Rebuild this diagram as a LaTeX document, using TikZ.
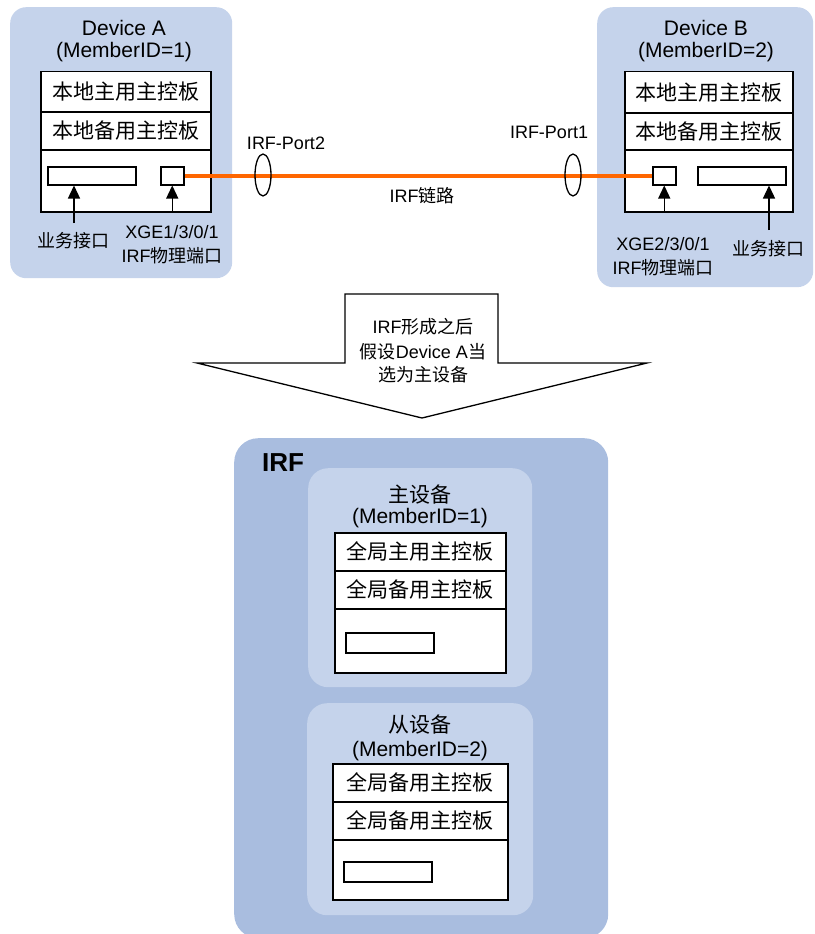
\documentclass[tikz,border=0pt]{standalone}
\usepackage{fontspec}
\setmainfont{Liberation Sans}
\newfontfamily\cjk{Noto Sans CJK SC}
\usetikzlibrary{shapes.geometric,arrows.meta}
\definecolor{devfill}{RGB}{197,211,235}
\definecolor{irffill}{RGB}{169,189,223}
\definecolor{linkc}{RGB}{255,102,0}
\tikzset{
  devbg/.style={fill=devfill, draw=none, rounded corners=16pt, inner sep=0pt, anchor=north west},
  irfbg/.style={fill=irffill, draw=none, rounded corners=24pt, inner sep=0pt, anchor=north west},
  cell/.style={draw=black, fill=white, line width=1.5pt, inner sep=0pt, anchor=north west},
  slotbox/.style={draw=black, fill=white, line width=1.5pt, inner sep=0pt, anchor=north west},
  lbl/.style={font=\fontsize{18}{20}\selectfont, inner sep=0pt},
  big/.style={font=\fontsize{21}{23}\selectfont, inner sep=0pt},
  upar/.style={line width=1.3pt, -{Triangle[width=12pt,length=13pt]}},
  link/.style={linkc, line width=3.5pt},
  ring/.style={ellipse, draw=black, line width=1.3pt, minimum width=16pt, minimum height=42pt, inner sep=0pt},
}
\begin{document}
\begin{tikzpicture}[x=1pt,y=-1pt]
\useasboundingbox (0,0) rectangle (814,934);

% ---------------- Device A ----------------
\node[devbg, minimum width=222pt, minimum height=271pt] (devA) at (10,7) {};
\node[big] (devAt) at (124,28) {Device A};
\node[big] (devAid) at (124,52) {(MemberID=1)};
\node[cell, minimum width=170pt, minimum height=40pt] (a1) at (40,71) {};
\node[big] at (a1.center) {\cjk 本地主用主控板};
\node[cell, minimum width=170pt, minimum height=38pt] (a2) at (40,111) {};
\node[big] at (a2.center) {\cjk 本地备用主控板};
\node[cell, minimum width=170pt, minimum height=62pt] (a3) at (40,149) {};
\node[slotbox, minimum width=88pt, minimum height=18pt] (slotA) at (47,166) {};
\node[slotbox, minimum width=23pt, minimum height=18pt] (portA) at (160,166) {};
\coordinate (sA) at (74,223);
\draw[upar] (sA) -- (sA |- slotA.south);
\draw[upar] (portA.south |- a3.south) -- (portA.south);
\node[lbl] (svcA) at (73,241) {\cjk 业务接口};
\node[lbl] (xgeA) at (172,232) {XGE1/3/0/1};
\node[lbl] (phyA) at (172,256) {IRF{\cjk 物理端口}};

% ---------------- Device B ----------------
\node[devbg, minimum width=216pt, minimum height=280pt] (devB) at (597,7) {};
\node[big] (devBt) at (706,28) {Device B};
\node[big] (devBid) at (706,52) {(MemberID=2)};
\node[cell, minimum width=168pt, minimum height=41pt] (b1) at (624,71) {};
\node[big] at (b1.center) {\cjk 本地主用主控板};
\node[cell, minimum width=168pt, minimum height=37pt] (b2) at (624,112) {};
\node[big] at (b2.center) {\cjk 本地备用主控板};
\node[cell, minimum width=168pt, minimum height=62pt] (b3) at (624,149) {};
\node[slotbox, minimum width=23pt, minimum height=18pt] (portB) at (652,166) {};
\node[slotbox, minimum width=88pt, minimum height=18pt] (slotB) at (697,166) {};
\coordinate (sB) at (769,230);
\draw[upar] (sB) -- (sB |- slotB.south);
\draw[upar] (portB.south |- b3.south) -- (portB.south);
\node[lbl] (xgeB) at (663,244) {XGE2/3/0/1};
\node[lbl] (phyB) at (663,268) {IRF{\cjk 物理端口}};
\node[lbl] (svcB) at (768,249) {\cjk 业务接口};

% ---------------- IRF link ----------------
\draw[link] (portA.east) -- (portB.west);
\node[ring] (ring2) at (263,175) {};
\node[ring] (ring1) at (573,175) {};
\node[lbl] (p2) at (286,143) {IRF-Port2};
\node[lbl] (p1) at (549,132) {IRF-Port1};
\node[lbl] (lnk) at (422,196) {IRF{\cjk 链路}};

% ---------------- big arrow ----------------
\draw[line width=1.3pt, fill=white, line join=miter]
  (345,294) -- (498,294) -- (498,363) -- (647,363) -- (422,418) -- (197,363) -- (345,363) -- cycle;
\node[lbl] (t1) at (423,327) {IRF{\cjk 形成之后}};
\node[lbl] (t2) at (423,352) {{\cjk 假设}Device A{\cjk 当}};
\node[lbl] (t3) at (423,375) {\cjk 选为主设备};

% ---------------- IRF ----------------
\node[irfbg, minimum width=374pt, minimum height=500pt] (irf) at (234,438) {};
\node[font=\fontsize{26}{28}\selectfont\bfseries, inner sep=0pt, anchor=west] (irft) at (262,463) {IRF};

\node[devbg, rounded corners=20pt, minimum width=224pt, minimum height=219pt] (m1) at (308,468) {};
\node[big] (m1t) at (420,495) {\cjk 主设备};
\node[big] (m1id) at (420,518) {(MemberID=1)};
\node[cell, minimum width=171pt, minimum height=38pt] (c1) at (334,532) {};
\node[big] at (c1.center) {\cjk 全局主用主控板};
\node[cell, minimum width=171pt, minimum height=38pt] (c2) at (334,570) {};
\node[big] at (c2.center) {\cjk 全局备用主控板};
\node[cell, minimum width=171pt, minimum height=64pt] (c3) at (334,608) {};
\node[slotbox, minimum width=88pt, minimum height=20pt] (slotM1) at (345,632) {};

\node[devbg, rounded corners=20pt, minimum width=226pt, minimum height=212pt] (m2) at (307,703) {};
\node[big] (m2t) at (420,725) {\cjk 从设备};
\node[big] (m2id) at (420,751) {(MemberID=2)};
\node[cell, minimum width=175pt, minimum height=38pt] (d1) at (332,763) {};
\node[big] at (d1.center) {\cjk 全局备用主控板};
\node[cell, minimum width=175pt, minimum height=38pt] (d2) at (332,801) {};
\node[big] at (d2.center) {\cjk 全局备用主控板};
\node[cell, minimum width=175pt, minimum height=60pt] (d3) at (332,839) {};
\node[slotbox, minimum width=88pt, minimum height=20pt] (slotM2) at (343,861) {};
\end{tikzpicture}
\end{document}
